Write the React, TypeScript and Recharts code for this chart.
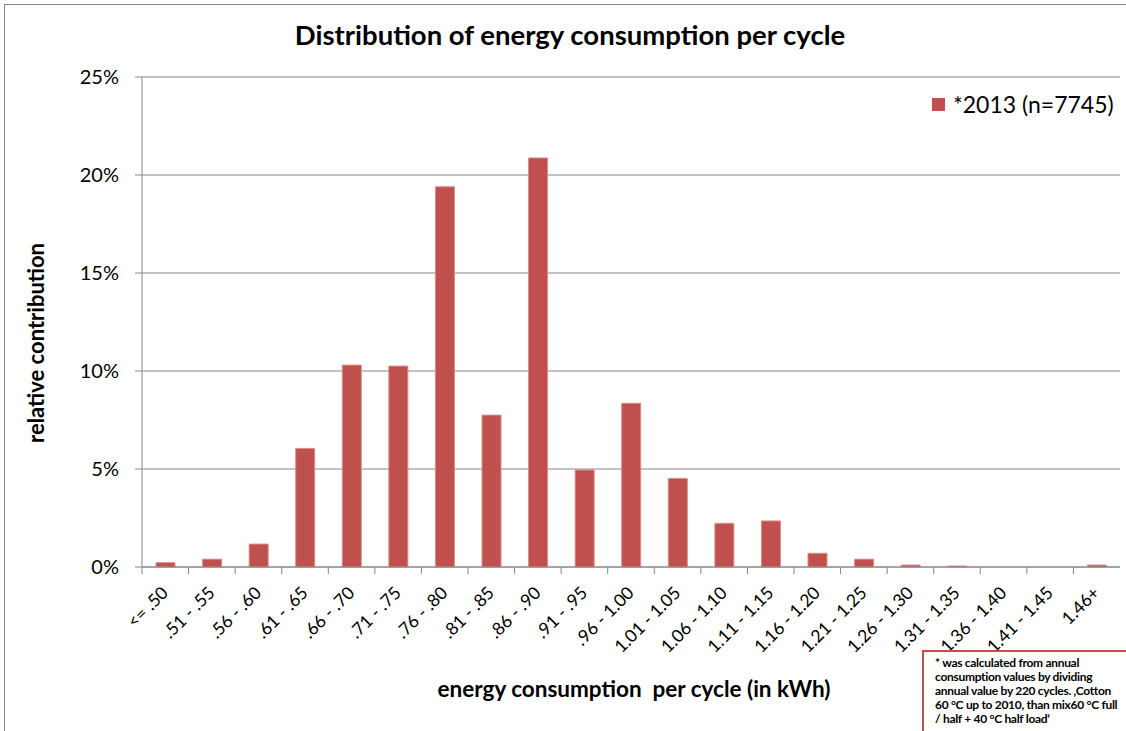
import { Bar, BarChart, CartesianGrid, Legend, XAxis, YAxis } from 'recharts'

const categories = [
  '<= .50', '.51 - .55', '.56 - .60', '.61 - .65', '.66 - .70', '.71 - .75', '.76 - .80',
  '.81 - .85', '.86 - .90', '.91 - .95', '.96 - 1.00', '1.01 - 1.05', '1.06 - 1.10',
  '1.11 - 1.15', '1.16 - 1.20', '1.21 - 1.25', '1.26 - 1.30', '1.31 - 1.35', '1.36 - 1.40',
  '1.41 - 1.45', '1.46+',
]
const share2013 = [
  0.22, 0.4, 1.17, 6.05, 10.3, 10.25, 19.4, 7.75, 20.87, 4.95, 8.35, 4.52, 2.23,
  2.35, 0.7, 0.4, 0.1, 0.05, 0, 0, 0.1,
]
const yTicks = [0, 5, 10, 15, 20, 25]
const seriesName = '*2013 (n=7745)'
const footnoteLines = [
  '* was calculated from annual',
  'consumption values by dividing',
  'annual value by 220 cycles. ‚Cotton',
  '60 °C up to 2010, than mix60 °C full',
  '/ half + 40 °C half load‘',
]

const data = categories.map((label, i) => ({ label, share: share2013[i] }))

const font = 'Lato, "Open Sans", sans-serif'
const barColor = '#c0504d'
const axisColor = '#868686'

function CategoryTick({ x, y, payload }: any) {
  const half = 978 / categories.length / 2
  const tx = x + 4
  const ty = y + 19
  return (
    <g>
      <line x1={x - half} y1={y - 8} x2={x - half} y2={y - 1} stroke={axisColor} />
      <text x={tx} y={ty} textAnchor="end" transform={`rotate(-45, ${tx}, ${ty})`}
        fontSize={17.5} fontFamily={font} fill="#000">
        {payload.value}
      </text>
    </g>
  )
}

function LegendBox() {
  return (
    <div style={{ display: 'flex', alignItems: 'center', fontFamily: font, fontSize: 23, color: '#000', whiteSpace: 'nowrap' }}>
      <span style={{ width: 13, height: 13, background: barColor, marginRight: 8, display: 'inline-block' }} />
      {seriesName}
    </div>
  )
}

export default function App() {
  return (
    <div style={{ position: 'absolute', left: 0, top: 0, width: 1126, height: 731, background: '#fff', overflow: 'hidden' }}>
      <div style={{ position: 'absolute', left: 4, top: 4, width: 1130, height: 740, border: `1px solid ${axisColor}`, boxSizing: 'border-box' }} />
      <div style={{ position: 'absolute', left: 0, width: 1140, top: 18, textAlign: 'center', fontFamily: font, fontWeight: 700, fontSize: 27.5 }}>
        Distribution of energy consumption per cycle
      </div>
      <BarChart width={1126} height={731} data={data} barSize={19}
        margin={{ top: 77, right: 6, bottom: 4, left: 12 }} style={{ position: 'absolute', left: 0, top: 0 }}>
        <CartesianGrid vertical={false} stroke={axisColor} strokeWidth={1} />
        <XAxis dataKey="label" interval={0} height={160} tickLine={false} stroke={axisColor}
          tick={<CategoryTick />} />
        <YAxis domain={[0, 25]} ticks={yTicks} width={130} tickSize={7} tickMargin={16} stroke={axisColor}
          tickFormatter={(v) => `${v}%`} tick={{ fill: '#000', fontSize: 20, fontFamily: font }} />
        <Legend layout="horizontal" verticalAlign="middle" align="center" content={<LegendBox />}
          wrapperStyle={{ left: 932, top: 90, width: 190 }} />
        <Bar dataKey="share" name={seriesName} fill={barColor} stroke="#d98d8b" strokeWidth={1} isAnimationActive={false} />
      </BarChart>
      <div style={{ position: 'absolute', left: 35, top: 343, transform: 'translate(-50%, -50%) rotate(-90deg)', whiteSpace: 'nowrap', fontFamily: font, fontWeight: 700, fontSize: 22 }}>
        relative contribution
      </div>
      <div style={{ position: 'absolute', left: 634, top: 688, transform: 'translate(-50%, -50%)', whiteSpace: 'pre', fontFamily: font, fontWeight: 700, fontSize: 22.5 }}>
        {'energy consumption  per cycle (in kWh)'}
      </div>
      <div style={{ position: 'absolute', left: 922, top: 650, width: 220, height: 100, border: `2px solid ${barColor}`, boxSizing: 'border-box', padding: '4px 0 0 11px', fontFamily: font, fontWeight: 700, fontSize: 12, letterSpacing: -0.3, lineHeight: '14px', color: '#000', whiteSpace: 'pre' }}>
        {footnoteLines.join('\n')}
      </div>
    </div>
  )
}
